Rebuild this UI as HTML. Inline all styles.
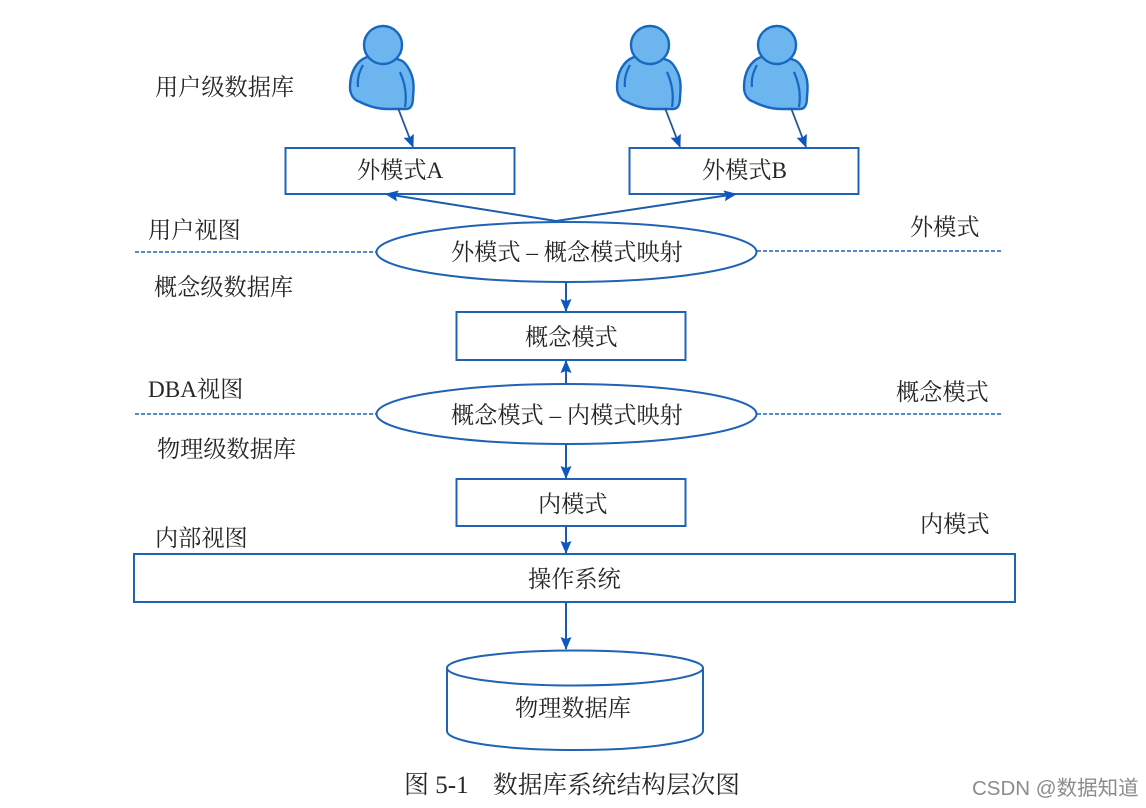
<!DOCTYPE html>
<html lang="zh">
<head>
<meta charset="utf-8">
<style>
html,body{margin:0;padding:0;background:#fff;}
svg{display:block;}
text{font-family:"Liberation Serif","Noto Serif CJK SC",serif;fill:#262626;font-size:23.2px;}
.s{font-family:"Liberation Sans","Noto Sans CJK SC",sans-serif;}
.b{fill:#fff;stroke:#1f63b5;stroke-width:2;}
.l{stroke:#1c5cab;stroke-width:2;fill:none;}
.g{stroke:#2a5a96;stroke-width:1.8;fill:none;}
.d{stroke:#1f63b5;stroke-width:1.4;stroke-dasharray:4 2;fill:none;}
.p{fill:#6db5ee;stroke:#1668c0;stroke-width:2.4;}
.f{fill:none;stroke:#1668c0;stroke-width:2.2;}
</style>
</head>
<body>
<svg width="1146" height="808" viewBox="0 0 1146 808" xmlns="http://www.w3.org/2000/svg">
<defs>
<marker id="a" markerWidth="13" markerHeight="11" refX="12" refY="5.500" orient="auto" markerUnits="userSpaceOnUse"><path d="M0 0L13 5.500L0 11L2 5.500Z" fill="#0f57c0"/></marker>
<g id="u">
<path class="p" d="M-15 12C-26 16-32 28-32 42C-32 50-28 55-22 57C-12 62-4 64 5 64L24 64C29 64 31 60 31 52C32 42 32 34 28 26C25 20 22 16 18 15C8 11-6 9-15 12Z"/>
<path class="f" d="M-19 20C-23 27-25 34-24 42M18 27C23 38 25 50 23 62"/>
<circle class="p" cx="1" cy="0" r="19"/>
</g>
</defs>

<use href="#u" x="382" y="45"/>
<use href="#u" x="649" y="45"/>
<use href="#u" x="776" y="45"/>

<line class="g" x1="398" y1="108" x2="413" y2="147" marker-end="url(#a)"/>
<line class="g" x1="665" y1="108" x2="680" y2="147" marker-end="url(#a)"/>
<line class="g" x1="791" y1="108" x2="806" y2="147" marker-end="url(#a)"/>

<rect class="b" x="285.500" y="148" width="229" height="46"/>
<rect class="b" x="629.500" y="148" width="229" height="46"/>

<line class="l" x1="556" y1="221" x2="386" y2="194" marker-end="url(#a)"/>
<line class="l" x1="556" y1="221" x2="736" y2="194" marker-end="url(#a)"/>

<line class="d" x1="135" y1="252" x2="376" y2="252"/>
<line class="d" x1="757" y1="251" x2="1003" y2="251"/>
<ellipse class="b" cx="566.500" cy="252" rx="190" ry="30"/>

<line class="l" x1="566" y1="282" x2="566" y2="311" marker-end="url(#a)"/>
<rect class="b" x="456.500" y="312" width="229" height="48"/>
<line class="l" x1="566" y1="385" x2="566" y2="361" marker-end="url(#a)"/>

<line class="d" x1="135" y1="414" x2="376" y2="414"/>
<line class="d" x1="757" y1="414" x2="1003" y2="414"/>
<ellipse class="b" cx="566.500" cy="414" rx="190" ry="30"/>

<line class="l" x1="566" y1="444" x2="566" y2="478" marker-end="url(#a)"/>
<rect class="b" x="456.500" y="479" width="229" height="47"/>
<line class="l" x1="566" y1="526" x2="566" y2="553" marker-end="url(#a)"/>
<rect class="b" x="134" y="554" width="881" height="48"/>
<line class="l" x1="566" y1="602" x2="566" y2="649" marker-end="url(#a)"/>

<path class="b" d="M447 668V731C447 742 505 750 575 750C645 750 703 742 703 731V668"/>
<ellipse class="b" cx="575" cy="668" rx="128" ry="17.500"/>

<text x="155" y="95">用户级数据库</text>
<text x="357" y="178">外模式A</text>
<text x="702" y="178">外模式B</text>
<text x="148" y="238">用户视图</text>
<text x="910" y="235">外模式</text>
<text x="451" y="260">外模式 – 概念模式映射</text>
<text x="154" y="295">概念级数据库</text>
<text x="525" y="345">概念模式</text>
<text x="148" y="397">DBA视图</text>
<text x="896" y="400">概念模式</text>
<text x="451" y="423">概念模式 – 内模式映射</text>
<text x="157" y="457">物理级数据库</text>
<text x="538" y="512">内模式</text>
<text x="155" y="546">内部视图</text>
<text x="920" y="532">内模式</text>
<text x="528" y="587">操作系统</text>
<text x="515" y="716">物理数据库</text>
<text x="404" y="793" style="font-size:25px">图 5-1</text>
<text x="493" y="793" style="font-size:24.700px">数据库系统结构层次图</text>
<text class="s" x="972" y="795" style="font-size:20.500px;fill:#8c8c8c">CSDN @数据知道</text>
</svg>
</body>
</html>
